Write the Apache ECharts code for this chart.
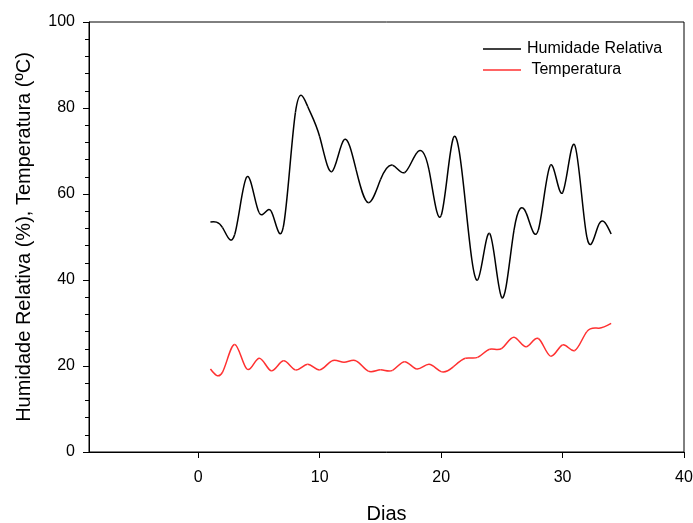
<!DOCTYPE html>
<html>
<head>
<meta charset="utf-8">
<script src="https://cdn.jsdelivr.net/npm/echarts@6/dist/echarts.min.js"></script>
<style>
  html, body { margin: 0; padding: 0; background: #fff; }
  #chart { width: 693px; height: 523px; }
</style>
</head>
<body>
<div id="chart"></div>
<script>
// Daily readings
const days = [1, 2, 3, 4, 5, 6, 7, 8, 9, 10, 11, 12, 13, 14, 15, 16, 17,
              18, 19, 20, 21, 22, 23, 24, 25, 26, 27, 28, 29, 30, 31, 32, 33, 34];
const humidade = [53.5, 52.2, 50.6, 64.0, 55.7, 56.0, 52.3, 79.0, 80.4, 73.3, 65.2, 72.6,
                  65.6, 58.0, 63.3, 66.7, 65.0, 69.6, 65.6, 55.0, 73.0, 57.9, 40.0, 50.8,
                  35.9, 51.6, 55.6, 51.6, 66.7, 60.3, 71.4, 50.0, 53.0, 50.7];
const temperatura = [19.3, 18.6, 25.0, 19.3, 21.8, 18.9, 21.2, 19.1, 20.4, 19.1, 21.2, 20.9,
                     21.2, 18.8, 19.1, 19.0, 21.0, 19.3, 20.4, 18.7, 19.8, 21.8, 22.0, 23.9,
                     24.1, 26.7, 24.5, 26.4, 22.3, 24.9, 23.6, 28.0, 28.8, 29.9];
const xTicks = [0, 10, 20, 30, 40];
const seriesNames = ['Humidade Relativa', 'Temperatura'];
const seriesColors = ['#000000', '#ff3030'];

const pairs = (vals) => days.map((d, i) => [d, vals[i]]);
const font = 'Arial, "Liberation Sans", sans-serif';

// Second derivatives of a natural cubic spline through (xs, ys)
function splineSecondDerivs(xs, ys) {
  const n = xs.length;
  const M = new Array(n).fill(0);
  if (n < 3) return M;
  const a = [], b = [], c = [], r = [];
  for (let i = 1; i < n - 1; i++) {
    const h0 = xs[i] - xs[i - 1], h1 = xs[i + 1] - xs[i];
    a.push(h0); b.push(2 * (h0 + h1)); c.push(h1);
    r.push(6 * ((ys[i + 1] - ys[i]) / h1 - (ys[i] - ys[i - 1]) / h0));
  }
  const m = b.length;
  for (let i = 1; i < m; i++) {
    const w = a[i] / b[i - 1];
    b[i] -= w * c[i - 1];
    r[i] -= w * r[i - 1];
  }
  const sol = new Array(m);
  sol[m - 1] = r[m - 1] / b[m - 1];
  for (let i = m - 2; i >= 0; i--) sol[i] = (r[i] - c[i] * sol[i + 1]) / b[i];
  for (let i = 0; i < m; i++) M[i + 1] = sol[i];
  return M;
}

// Custom series: each data item draws the spline piece to the next item as a bezier
function splineSeries(name, vals, color) {
  const M = splineSecondDerivs(days, vals);
  return {
    name: name, type: 'custom', data: pairs(vals),
    encode: { x: 0, y: 1 },
    itemStyle: { color: color },
    renderItem: function (params, api) {
      const i = params.dataIndex;
      if (i >= days.length - 1) return null;
      const x0 = days[i], x1 = days[i + 1], y0 = vals[i], y1 = vals[i + 1];
      const h = x1 - x0, s = (y1 - y0) / h;
      const d0 = s - h * (2 * M[i] + M[i + 1]) / 6;
      const d1 = s + h * (M[i] + 2 * M[i + 1]) / 6;
      const p0 = api.coord([x0, y0]);
      const p1 = api.coord([x1, y1]);
      const c0 = api.coord([x0 + h / 3, y0 + d0 * h / 3]);
      const c1 = api.coord([x1 - h / 3, y1 - d1 * h / 3]);
      return {
        type: 'bezierCurve',
        shape: { x1: p0[0], y1: p0[1], x2: p1[0], y2: p1[1],
                 cpx1: c0[0], cpy1: c0[1], cpx2: c1[0], cpy2: c1[1] },
        style: { stroke: color, lineWidth: 1.5, fill: 'none' },
        silent: true
      };
    }
  };
}

const chart = echarts.init(document.getElementById('chart'), null, { renderer: 'canvas' });
chart.setOption({
  animation: false,
  backgroundColor: '#fff',
  grid: {
    left: 89, top: 22, width: 595, height: 430,
    containLabel: false, outerBoundsMode: 'none',
    show: true, borderColor: '#000', borderWidth: 1, backgroundColor: 'transparent'
  },
  legend: {
    left: 478, top: 36, orient: 'vertical',
    itemWidth: 38, itemHeight: 1.5, itemGap: 5,
    icon: 'rect',
    data: seriesNames,
    formatter: (name) => name === 'Temperatura' ? ' ' + name : name,
    textStyle: { fontFamily: font, fontSize: 16, color: '#000', lineHeight: 16, padding: [0, 0, 0, 1] }
  },
  xAxis: {
    type: 'value', min: -9, max: 40,
    name: 'Dias', nameLocation: 'middle', nameGap: 52,
    nameTextStyle: { fontFamily: font, fontSize: 20, color: '#000' },
    axisLine: { show: true, onZero: false, lineStyle: { color: '#000', width: 1 } },
    axisTick: { show: true, length: 6, customValues: xTicks, lineStyle: { color: '#000' } },
    axisLabel: { customValues: xTicks, margin: 18, fontFamily: font, fontSize: 16, color: '#000' },
    splitLine: { show: false }
  },
  yAxis: {
    type: 'value', min: 0, max: 100, interval: 20,
    name: 'Humidade Relativa (%), Temperatura (ºC)', nameLocation: 'middle', nameGap: 55,
    nameTextStyle: { fontFamily: font, fontSize: 20, color: '#000' },
    axisLine: { show: true, onZero: false, lineStyle: { color: '#000', width: 1 } },
    axisTick: { show: true, length: 6, lineStyle: { color: '#000' } },
    minorTick: { show: true, splitNumber: 5, length: 4, lineStyle: { color: '#000' } },
    axisLabel: { margin: 14, fontFamily: font, fontSize: 16, color: '#000' },
    splitLine: { show: false },
    minorSplitLine: { show: false }
  },
  series: [
    splineSeries(seriesNames[0], humidade, seriesColors[0]),
    splineSeries(seriesNames[1], temperatura, seriesColors[1])
  ]
});
</script>
</body>
</html>
